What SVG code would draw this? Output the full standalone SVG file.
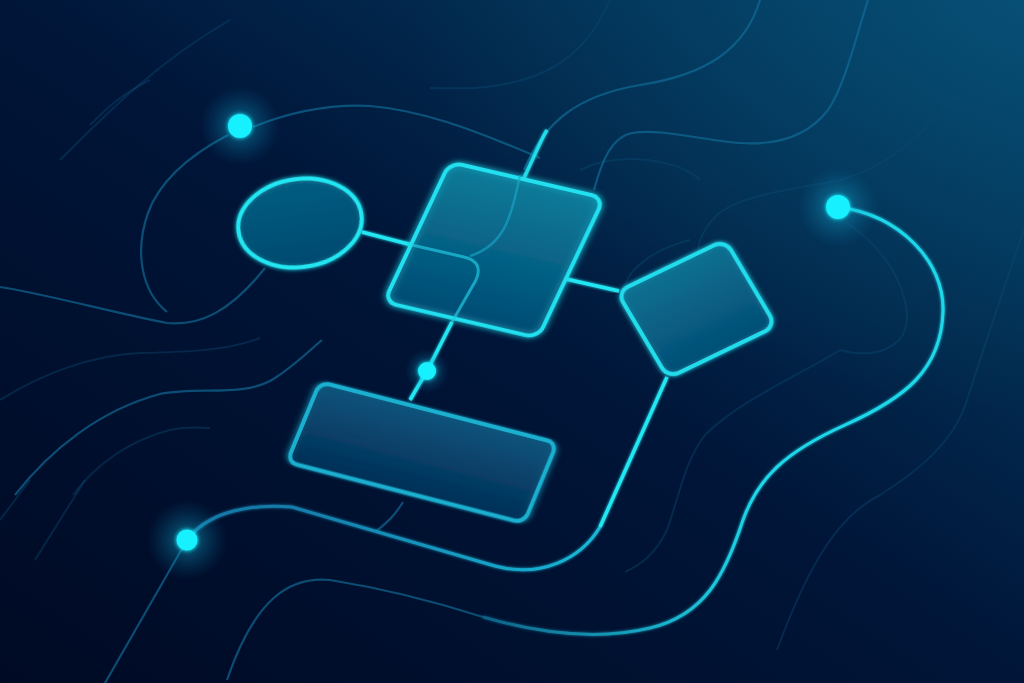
<svg xmlns="http://www.w3.org/2000/svg" width="1024" height="683" viewBox="0 0 1024 683">
<defs>
<linearGradient id="bg" x1="0" y1="1" x2="1" y2="0">
<stop offset="0" stop-color="#000a24"/>
<stop offset="0.5" stop-color="#001538"/>
<stop offset="1" stop-color="#04446a"/>
</linearGradient>
<radialGradient id="glowTR" cx="1" cy="0" r="0.6">
<stop offset="0" stop-color="#0a5a80" stop-opacity="0.5"/>
<stop offset="1" stop-color="#0a5a80" stop-opacity="0"/>
</radialGradient>
<radialGradient id="dotGlow">
<stop offset="0" stop-color="#3ff6ff" stop-opacity="0.75"/>
<stop offset="0.35" stop-color="#12b8e0" stop-opacity="0.3"/>
<stop offset="1" stop-color="#0a80b0" stop-opacity="0"/>
</radialGradient>
<linearGradient id="fillBig" x1="0" y1="0" x2="0" y2="1">
<stop offset="0" stop-color="#0c84a2"/>
<stop offset="1" stop-color="#06507a"/>
</linearGradient>
<linearGradient id="fillRect" x1="0" y1="0" x2="0" y2="1">
<stop offset="0" stop-color="#0a547c"/>
<stop offset="1" stop-color="#052f57"/>
</linearGradient>
<linearGradient id="fillDia" x1="0" y1="0" x2="0" y2="1">
<stop offset="0" stop-color="#0b7394"/>
<stop offset="1" stop-color="#064e76"/>
</linearGradient>
<linearGradient id="fillEll" x1="0" y1="0" x2="0" y2="1">
<stop offset="0" stop-color="#065f84"/>
<stop offset="1" stop-color="#054a70"/>
</linearGradient>
<linearGradient id="fadeLeft" gradientUnits="userSpaceOnUse" x1="760" y1="0" x2="480" y2="0">
<stop offset="0" stop-color="#1fd8ea" stop-opacity="1"/>
<stop offset="1" stop-color="#1590b8" stop-opacity="0.45"/>
</linearGradient>
<linearGradient id="midFade" gradientUnits="userSpaceOnUse" x1="600" y1="0" x2="280" y2="0">
<stop offset="0" stop-color="#1ab8d8"/>
<stop offset="1" stop-color="#137aa8"/>
</linearGradient>
<filter id="glow" x="-30%" y="-30%" width="160%" height="160%">
<feGaussianBlur in="SourceGraphic" stdDeviation="2.2" result="b"/>
<feMerge><feMergeNode in="b"/><feMergeNode in="SourceGraphic"/></feMerge>
</filter>
<filter id="softglow" x="-10%" y="-10%" width="120%" height="120%">
<feGaussianBlur in="SourceGraphic" stdDeviation="1.6" result="b"/>
<feMerge><feMergeNode in="b"/><feMergeNode in="SourceGraphic"/></feMerge>
</filter>
</defs>
<style>
.faint{fill:none;stroke:#0c4a74;stroke-width:2;stroke-opacity:0.4}
.mid{fill:none;stroke:#116e9a;stroke-width:2.2;stroke-opacity:0.65}
.bright{fill:none;stroke:#1fd8ea;stroke-width:3}
.conn{fill:none;stroke:#22e6f2;stroke-width:3.5}
.shape{vector-effect:non-scaling-stroke;stroke-width:4}
.dot{fill:#18f0ff}
</style>

<rect width="1024" height="683" fill="url(#bg)"/>
<rect width="1024" height="683" fill="url(#glowTR)"/>

<g id="background-curves">
<path class="faint" d="M 610,0 C 590,45 560,75 500,85 C 470,90 455,88 430,88"/>
<path class="faint" d="M 150,80 C 120,95 105,110 90,125" stroke-opacity="0.25"/>
<path class="faint" d="M 230,20 C 160,60 110,110 60,160" stroke-opacity="0.25"/>
<path class="faint" d="M 1024,230 C 1010,270 993,320 967,400 C 955,440 920,470 880,495 C 840,515 810,560 777,650"/>
<path class="faint" d="M 960,90 C 920,140 880,170 840,180 C 790,190 740,195 717,215 C 700,232 695,250 700,260"/>
<path class="faint" d="M 847,223 C 880,245 905,280 907,315 C 908,345 880,360 840,350 C 800,375 740,400 705,435 C 685,460 678,500 667,530 C 655,555 640,565 625,572"/>
<path class="faint" d="M 0,400 C 40,375 90,355 140,353 C 190,352 230,350 260,338"/>
<path class="faint" d="M 73,495 C 95,465 130,440 170,430 C 190,426 200,428 210,428"/>
<path class="faint" d="M 30,480 L 0,520" stroke-opacity="0.25"/>
<path class="faint" d="M 85,480 L 35,560" stroke-opacity="0.25"/>
<path class="faint" d="M 580,170 C 620,150 680,160 700,180"/>
<path class="faint" d="M 690,240 C 650,250 630,270 625,285"/>
<path class="mid" d="M 0,287 C 50,295 110,312 167,323 C 200,326 230,312 265,268"/>
<path class="mid" d="M 228,135 C 190,155 160,180 148,213 C 135,250 140,290 167,312"/>
<path class="mid" d="M 253,127 C 290,112 330,104 370,106 C 420,110 470,128 540,158"/>
<path class="mid" d="M 15,495 C 50,450 100,410 160,394 C 200,386 245,398 275,378 C 295,365 310,350 322,340"/>
<path class="mid" d="M 760,0 C 745,50 705,75 640,85 C 580,95 545,120 524,170"/>
<path class="mid" d="M 868,0 C 855,40 845,85 828,110 C 805,140 770,145 740,143 C 700,140 660,128 632,133 C 612,137 602,160 594,190" stroke="#1486b0"/>
<path class="mid" d="M 483,617 C 430,600 380,588 330,580 C 290,576 255,598 227,680"/>
<path class="mid" d="M 403,502 C 395,515 388,522 375,532"/>
<path class="mid" d="M 187,540 L 105,683" stroke="#1380aa"/>
</g>

<g id="connectors">
<path fill="none" stroke="url(#fadeLeft)" stroke-width="3" filter="url(#softglow)" d="M 838,207 C 900,215 945,262 943,312 C 941,370 905,398 845,425 C 785,452 758,478 743,520 C 725,575 705,615 650,628 C 600,640 545,635 483,617"/>
<path fill="none" stroke="url(#midFade)" stroke-width="3" filter="url(#softglow)" d="M 187,540 C 205,516 240,503 292,507 L 495,566 C 540,578 580,560 600,527"/>
<path class="conn" filter="url(#softglow)" d="M 600,527 L 667,377"/>
<path class="conn" filter="url(#softglow)" d="M 362,232 L 412,245"/>
<path class="conn" filter="url(#softglow)" d="M 452,322 L 427,371 L 410,400"/>
<path class="conn" filter="url(#softglow)" d="M 566,279 L 619,291"/>
<path class="conn" filter="url(#softglow)" stroke-opacity="0.85" d="M 524,178 L 536,152 C 540,144 543,136 547,130"/>
</g>

<g id="node-ellipse">
<ellipse cx="300" cy="223" rx="62" ry="44" transform="rotate(-8 300 223)" fill="url(#fillEll)" fill-opacity="0.85" stroke="#22e6f2" stroke-width="4" filter="url(#glow)"/>
</g>

<g id="node-big">
<rect x="0" y="0" width="100" height="100" rx="8" ry="8" transform="matrix(1.54,0.36,-0.66,1.40,450,162)" fill="url(#fillBig)" fill-opacity="0.7" stroke="#22e0ef" class="shape" filter="url(#glow)"/>
<path d="M 412,245 L 464,257 Q 484,262 476,280 L 452,322" fill="none" stroke="#1fc8e0" stroke-width="3" stroke-opacity="0.7"/>
<path d="M 520,175 C 512,215 505,245 470,256" fill="none" stroke="#1aa8c8" stroke-width="2.5" stroke-opacity="0.6"/>
</g>

<g id="node-diamond">
<rect x="0" y="0" width="100" height="100" rx="10" ry="12" transform="matrix(1.08,-0.52,0.51,0.86,617,292)" fill="url(#fillDia)" fill-opacity="0.85" stroke="#22dcec" class="shape" filter="url(#glow)"/>
</g>

<g id="node-rect">
<rect x="0" y="0" width="100" height="100" rx="4" ry="12" transform="matrix(2.37,0.61,-0.33,0.80,320,382)" fill="url(#fillRect)" fill-opacity="0.9" stroke="#1bb0d0" class="shape" filter="url(#softglow)"/>
</g>

<g id="dots">
<circle cx="240" cy="126" r="40" fill="url(#dotGlow)"/>
<circle cx="240" cy="126" r="12" class="dot" filter="url(#glow)"/>
<circle cx="838" cy="207" r="40" fill="url(#dotGlow)"/>
<circle cx="838" cy="207" r="12" class="dot" filter="url(#glow)"/>
<circle cx="187" cy="540" r="40" fill="url(#dotGlow)"/>
<circle cx="187" cy="540" r="10.5" class="dot" filter="url(#glow)"/>
<circle cx="427" cy="371" r="22" fill="url(#dotGlow)"/>
<circle cx="427" cy="371" r="9" class="dot" filter="url(#glow)"/>
</g>
</svg>
